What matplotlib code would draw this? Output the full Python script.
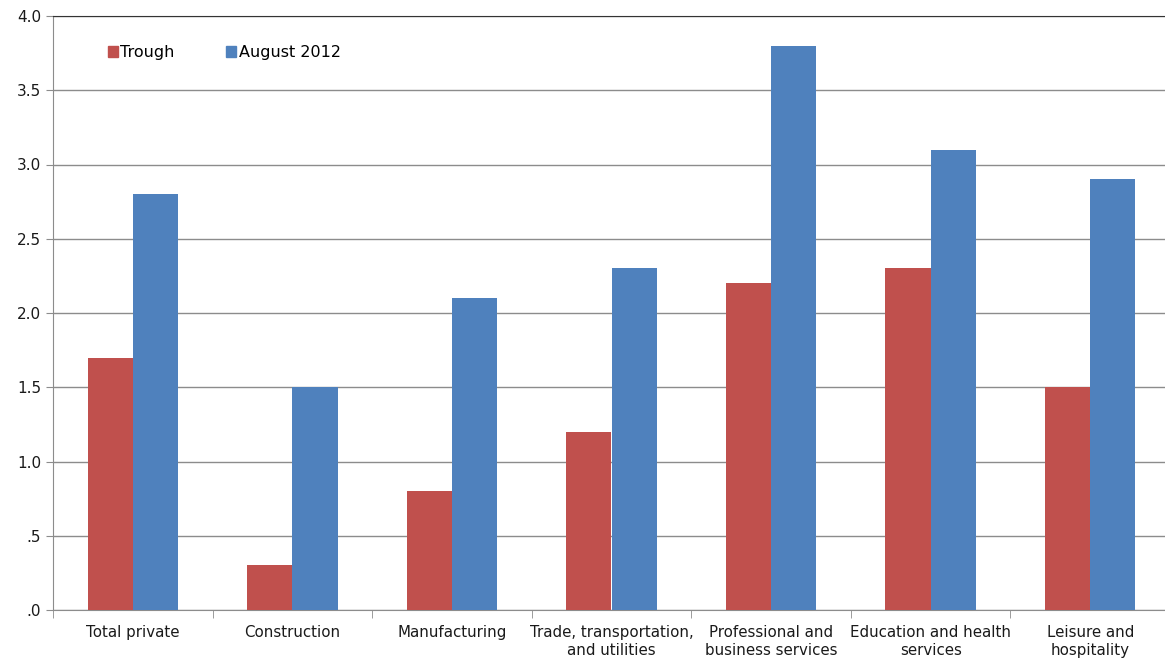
import numpy as np
import matplotlib
matplotlib.use("Agg")
import matplotlib.pyplot as plt
from matplotlib.patches import Patch

categories = ["Total private", "Construction", "Manufacturing",
              "Trade, transportation,\nand utilities", "Professional and\nbusiness services",
              "Education and health\nservices", "Leisure and\nhospitality"]
trough = [1.7, 0.3, 0.8, 1.2, 2.2, 2.3, 1.5]
august_2012 = [2.8, 1.5, 2.1, 2.3, 3.8, 3.1, 2.9]
y_ticks = [0, 0.5, 1.0, 1.5, 2.0, 2.5, 3.0, 3.5, 4.0]
y_labels = [".0", ".5", "1.0", "1.5", "2.0", "2.5", "3.0", "3.5", "4.0"]

plt.rcParams["font.family"] = ["DejaVu Sans"]
fig = plt.figure(figsize=(11.65, 6.6), dpi=100)
ax = fig.add_axes([53 / 1165, 50 / 660, (1170 - 53) / 1165, (610 - 16) / 660])

x = np.arange(len(categories))
w = 0.283
ax.bar(x - w / 2, trough, w, color="#C0504D", zorder=3, linewidth=0)
ax.bar(x + w / 2, august_2012, w, color="#4F81BD", zorder=3, linewidth=0)

ax.set_xlim(-0.5, len(categories) - 0.5)
ax.set_ylim(0, 4)
ax.set_yticks(y_ticks)
ax.set_yticklabels(y_labels, fontsize=11, color="#1a1a1a")
ax.yaxis.grid(True, color="#8c8c8c", linewidth=1, zorder=0)

ax.set_xticks(x)
ax.set_xticklabels(categories, fontsize=10.8, color="#1a1a1a")
ax.tick_params(axis="x", length=0, pad=11)
ax.set_xticks(np.arange(-0.5, len(categories)), minor=True)
ax.tick_params(axis="x", which="minor", length=6, color="#8c8c8c")
ax.tick_params(axis="y", length=5, color="#8c8c8c")
for lbl in ax.get_xticklabels():
    lbl.set_linespacing(1.25)

for s in ["left", "bottom"]:
    ax.spines[s].set_color("#8c8c8c")
ax.spines["top"].set_color("#333333")
ax.spines["right"].set_visible(False)

handles = [Patch(color="#C0504D", label="Trough"), Patch(color="#4F81BD", label="August 2012")]
ax.legend(handles=handles, loc="upper left", bbox_to_anchor=(0.036, 0.975), ncol=2,
          frameon=False, fontsize=11.5, handlelength=0.65, handleheight=0.65,
          handletextpad=0.15, columnspacing=3.2, prop={"size": 11.5})

fig.savefig("out.png", dpi=100)
